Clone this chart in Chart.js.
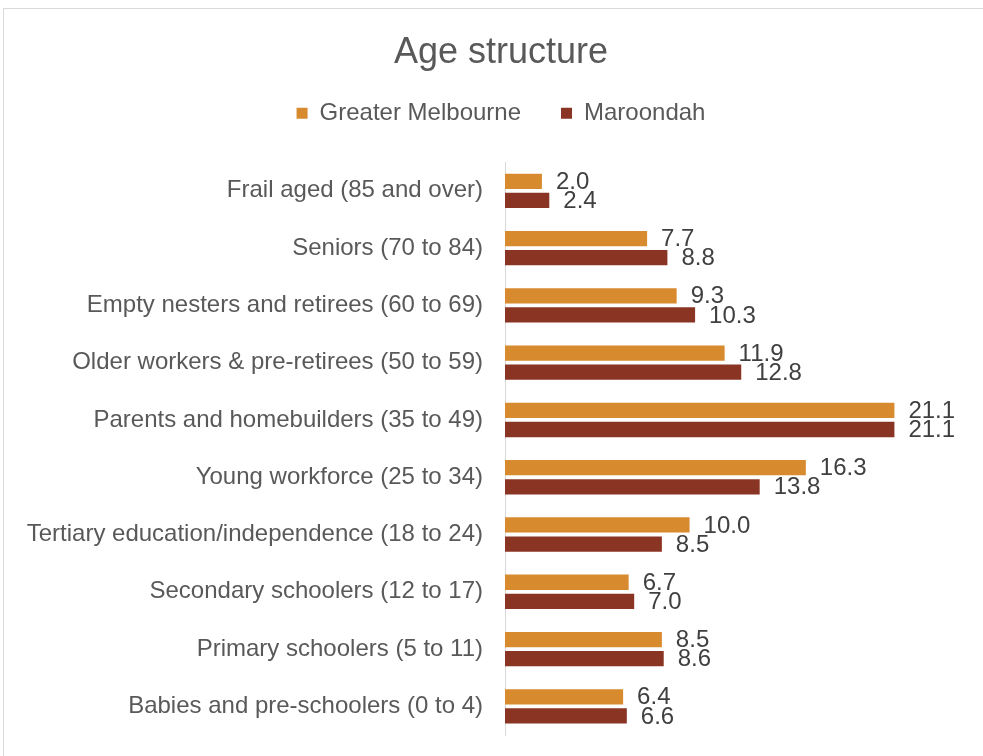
<!DOCTYPE html>
<html>
<head>
<meta charset="utf-8">
<script src="https://cdn.jsdelivr.net/npm/chart.js@4/dist/chart.umd.min.js"></script>
<style>
  html, body { margin: 0; padding: 0; background: #fff; overflow: hidden; }
  #frame { position: absolute; left: 3px; top: 8px; width: 1000px; height: 800px; border: 1px solid #d9d9d9; }
  #wrap { position: absolute; left: 0; top: 0; width: 983px; height: 756px; }
</style>
</head>
<body>
<div id="frame"></div>
<div id="wrap"><canvas id="ageChart" width="983" height="756"></canvas></div>
<script>
/* Age structure data (percent of population) */
const categories = [
    "Frail aged (85 and over)",
    "Seniors (70 to 84)",
    "Empty nesters and retirees (60 to 69)",
    "Older workers & pre-retirees (50 to 59)",
    "Parents and homebuilders (35 to 49)",
    "Young workforce (25 to 34)",
    "Tertiary education/independence (18 to 24)",
    "Secondary schoolers (12 to 17)",
    "Primary schoolers (5 to 11)",
    "Babies and pre-schoolers (0 to 4)"
];
const greaterMelbourne = [2.0, 7.7, 9.3, 11.9, 21.1, 16.3, 10.0, 6.7, 8.5, 6.4];
const maroondah = [2.4, 8.8, 10.3, 12.8, 21.1, 13.8, 8.5, 7.0, 8.6, 6.6];

const FONT = "'Liberation Sans', Arial, sans-serif";

/* Value labels at the end of each bar */
const barLabels = {
    id: "barLabels",
    afterDatasetsDraw(chart) {
        const ctx = chart.ctx;
        ctx.save();
        ctx.font = "24px " + FONT;
        ctx.fillStyle = "#404040";
        ctx.textAlign = "left";
        ctx.textBaseline = "middle";
        chart.data.datasets.forEach((ds, i) => {
            const meta = chart.getDatasetMeta(i);
            meta.data.forEach((bar, j) => {
                ctx.fillText(ds.data[j].toFixed(1), bar.x + 14, bar.y + 1);
            });
        });
        ctx.restore();
    }
};

const ctx = document.getElementById("ageChart").getContext("2d");
new Chart(ctx, {
    type: "bar",
    data: {
        labels: categories,
        datasets: [
            {
                label: "Greater Melbourne",
                data: greaterMelbourne,
                backgroundColor: "#d88a2f",
                categoryPercentage: 0.667,
                barPercentage: 0.8
            },
            {
                label: "Maroondah",
                data: maroondah,
                backgroundColor: "#8a3424",
                categoryPercentage: 0.667,
                barPercentage: 0.8
            }
        ]
    },
    options: {
        indexAxis: "y",
        responsive: false,
        animation: false,
        // negative right padding centres title/legend over the plot like the original
        layout: { padding: { left: 0, right: -19, top: 0, bottom: 21 } },
        plugins: {
            title: {
                display: true,
                text: "Age structure",
                color: "#595959",
                font: { family: FONT, size: 36, weight: "normal" },
                padding: { top: 31, bottom: -13 }
            },
            legend: {
                position: "top",
                labels: {
                    color: "#595959",
                    font: { family: FONT, size: 24 },
                    boxWidth: 11,
                    boxHeight: 11,
                    padding: 40
                }
            },
            tooltip: { enabled: false }
        },
        scales: {
            x: {
                position: "top",
                min: 0,
                max: 25.9,
                grid: { display: false, drawTicks: false },
                border: { display: false },
                ticks: { display: false },
                afterFit(scale) { scale.height = 27; }
            },
            y: {
                afterFit(scale) {
                    scale.width = 505;
                    scale.paddingTop = 0;
                    scale.paddingBottom = 0;
                },
                grid: { display: false, drawTicks: false },
                border: { display: true, color: "#d9d9d9", width: 1 },
                ticks: {
                    color: "#595959",
                    font: { family: FONT, size: 24 },
                    padding: 22
                }
            }
        }
    },
    plugins: [barLabels]
});
</script>
</body>
</html>
